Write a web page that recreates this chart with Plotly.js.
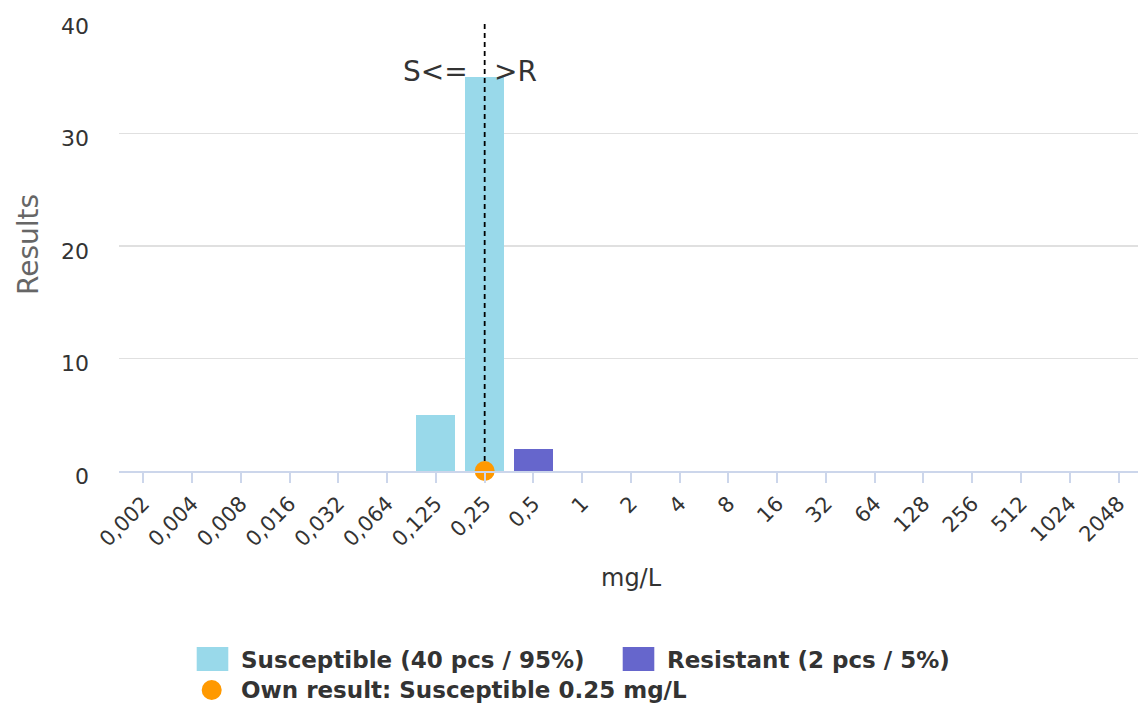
<!DOCTYPE html>
<html>
<head>
<meta charset="utf-8">
<script src="https://cdn.plot.ly/plotly-3.0.1.min.js"></script>
<style>html,body{margin:0;padding:0;background:#fff;}#chart{width:1138px;height:710px;}</style>
</head>
<body>
<div id="chart"></div>
<script>
// ---- data ----
var categories = ['0,002','0,004','0,008','0,016','0,032','0,064','0,125','0,25','0,5','1','2','4','8','16','32','64','128','256','512','1024','2048'];
var susceptible = [0,0,0,0,0,0,5,35,0,0,0,0,0,0,0,0,0,0,0,0,0];
var resistant   = [0,0,0,0,0,0,0,0,2,0,0,0,0,0,0,0,0,0,0,0,0];
var ownResultX = ['0,25'];
var ownResultY = [0];
var ownResultLabel = 'Own result: Susceptible 0.25 mg/L';
var breakpoint = '0,25';
var yTicks = [0,10,20,30,40];
var xTitle = 'mg/L';
var yTitle = 'Results';

// ---- styling constants ----
var W = 1138, H = 710;
var M = {l:119, r:0, t:21, b:239};
var PW = W - M.l - M.r, PH = H - M.t - M.b;
function px(x){ return (x - M.l) / PW; }
function py(y){ return (M.t + PH - y) / PH; }

var colS = '#99d9ea', colR = '#6666cc', colO = '#ff9900';

function sum(a){ return a.reduce(function(s,v){return s+v;},0); }
var nS = sum(susceptible), nR = sum(resistant), nT = nS + nR;
var nameS = 'Susceptible (' + nS + ' pcs / ' + Math.round(100*nS/nT) + '%)';
var nameR = 'Resistant (' + nR + ' pcs / ' + Math.round(100*nR/nT) + '%)';

var traces = [
  {type:'bar', x:categories, y:susceptible, name:nameS, marker:{color:colS}, showlegend:false},
  {type:'bar', x:categories, y:resistant, name:nameR, marker:{color:colR}, showlegend:false},
  {type:'scatter', mode:'markers', x:ownResultX, y:ownResultY, name:ownResultLabel, marker:{color:colO, size:20}, showlegend:false, cliponaxis:false}
];

var legFont = {family:'DejaVu Sans', size:23, color:'#333333', weight:'bold'};

var shapes = [
  {type:'line', xref:'x', yref:'y', x0:breakpoint, x1:breakpoint, y0:0.9, y1:40.1, line:{color:'#000', width:1.8, dash:'5px,4px'}, layer:'above'},
  // legend swatches
  {type:'rect', xref:'paper', yref:'paper', x0:px(196.7), x1:px(228.3), y0:py(671), y1:py(647), fillcolor:colS, line:{width:0}},
  {type:'rect', xref:'paper', yref:'paper', x0:px(622.7), x1:px(654.3), y0:py(671), y1:py(647), fillcolor:colR, line:{width:0}},
  {type:'circle', xref:'paper', yref:'paper', x0:px(201.7), x1:px(221.7), y0:py(700), y1:py(680), fillcolor:colO, line:{width:0}}
];

var annFont = {family:'DejaVu Sans', size:28, color:'#333333'};
var annotations = [
  {xref:'x', yref:'paper', x:breakpoint, y:py(72), text:'S<=', showarrow:false, xanchor:'right', yanchor:'middle', xshift:-15, font:annFont},
  {xref:'x', yref:'paper', x:breakpoint, y:py(72), text:'>R', showarrow:false, xanchor:'left', yanchor:'middle', xshift:7, font:annFont},
  {xref:'paper', yref:'paper', x:px(631), y:py(578), text:xTitle, showarrow:false, xanchor:'center', yanchor:'middle', font:{family:'DejaVu Sans', size:24, color:'#333333'}},
  {xref:'paper', yref:'paper', x:px(28), y:py(245), text:yTitle, showarrow:false, textangle:-90, xanchor:'center', yanchor:'middle', font:{family:'DejaVu Sans', size:28, color:'#666666'}},
  {xref:'paper', yref:'paper', x:px(239), y:py(660), text:nameS, showarrow:false, xanchor:'left', yanchor:'middle', font:legFont},
  {xref:'paper', yref:'paper', x:px(665), y:py(660), text:nameR, showarrow:false, xanchor:'left', yanchor:'middle', font:legFont},
  {xref:'paper', yref:'paper', x:px(239), y:py(690), text:ownResultLabel, showarrow:false, xanchor:'left', yanchor:'middle', font:legFont}
];

var layout = {
  width:W, height:H,
  margin:M,
  paper_bgcolor:'#ffffff', plot_bgcolor:'#ffffff',
  font:{family:'DejaVu Sans', color:'#333333'},
  barmode:'stack', bargap:0.2,
  showlegend:false,
  xaxis:{
    type:'category', range:[-0.5, 20.4],
    showline:true, linecolor:'#ccd6eb', linewidth:2,
    ticks:'outside', ticklen:10, tickcolor:'#ccd6eb', tickwidth:2,
    tickangle:-45, tickfont:{family:'DejaVu Sans', size:21, color:'#333333'},
    showgrid:false, zeroline:false, fixedrange:true
  },
  yaxis:{
    range:[0,40], tickvals:yTicks, ticktext:yTicks.map(String),
    showgrid:true, gridcolor:'#e0e0e0', gridwidth:1.5, zeroline:false,
    showline:false, ticks:'', ticklabelstandoff:29, ticklabelshift:5,
    tickfont:{family:'DejaVu Sans', size:22, color:'#333333'},
    fixedrange:true
  },
  shapes:shapes,
  annotations:annotations
};

Plotly.newPlot('chart', traces, layout, {displayModeBar:false, staticPlot:true});
</script>
</body>
</html>
